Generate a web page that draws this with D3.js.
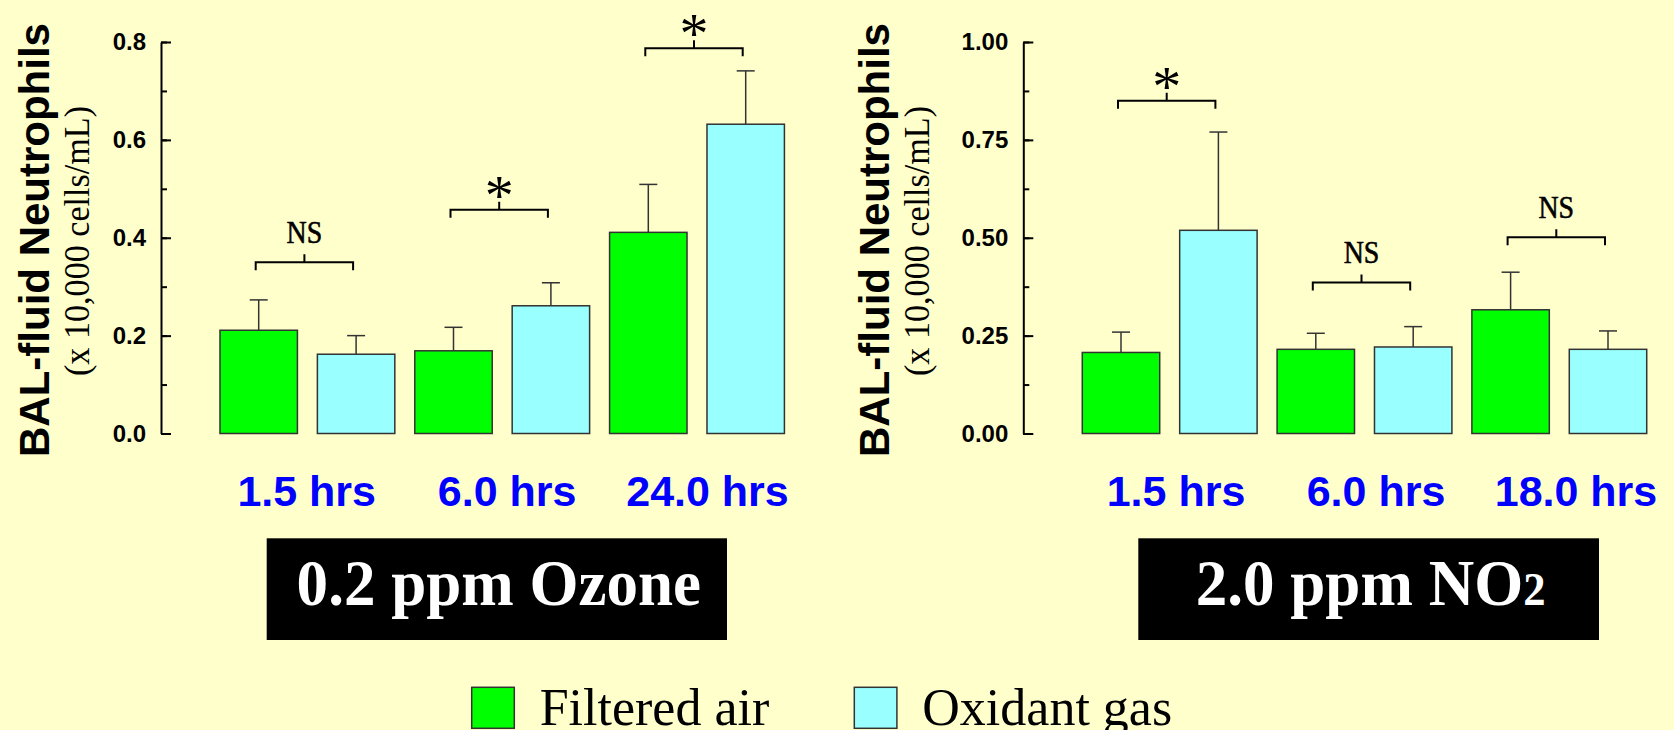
<!DOCTYPE html>
<html>
<head>
<meta charset="utf-8">
<script src="https://cdn.jsdelivr.net/npm/d3@7"></script>
<style>
    html, body { margin: 0; padding: 0; background: #ffffcc; }
    svg { display: block; }
</style>
</head>
<body>
<svg id="chart" width="1674" height="730"></svg>
<script>
// series shared by both panels
const series = ["Filtered air", "Oxidant gas"];
const seriesColors = ["#00ff00", "#99ffff"];

// 0.2 ppm ozone
const ozoneTimes = ["1.5 hrs", "6.0 hrs", "24.0 hrs"];
const ozoneFiltered = [0.211, 0.169, 0.411];
const ozoneFilteredErr = [0.062, 0.048, 0.098];
const ozoneOxidant = [0.162, 0.261, 0.632];
const ozoneOxidantErr = [0.038, 0.047, 0.109];
const ozoneSig = ["NS", "*", "*"];
const ozoneSigLevel = [0.35, 0.457, 0.787];
const ozoneTicks = [0, 0.2, 0.4, 0.6, 0.8];

// 2.0 ppm NO2
const no2Times = ["1.5 hrs", "6.0 hrs", "18.0 hrs"];
const no2Filtered = [0.207, 0.215, 0.316];
const no2FilteredErr = [0.052, 0.041, 0.096];
const no2Oxidant = [0.519, 0.221, 0.215];
const no2OxidantErr = [0.251, 0.052, 0.047];
const no2Sig = ["*", "NS", "NS"];
const no2SigLevel = [0.85, 0.386, 0.501];
const no2Ticks = [0, 0.25, 0.5, 0.75, 1.0];

const svg = d3.select("#chart");
const SANS = "'Liberation Sans', Arial, sans-serif";
const SERIF = "'Liberation Serif', 'Times New Roman', serif";

svg.append("rect").attr("width", 1674).attr("height", 730).attr("fill", "#ffffcc");

function drawPanel(p) {
    const y = d3.scaleLinear().domain([0, p.ticks[p.ticks.length - 1]]).range([433.5, 42]);
    const x0 = d3.scaleBand().domain(p.times).range([p.axisX + 49, p.axisX + 49 + 584.4]);
    const x1 = d3.scaleBand().domain(series).range([0, x0.bandwidth()])
        .paddingInner(0.205).paddingOuter(0.1025);
    const g = svg.append("g");

    // minor ticks
    g.append("g")
        .attr("transform", `translate(${p.axisX},0)`)
        .call(d3.axisLeft(y).tickValues(d3.range(0, y.domain()[1] + 1e-9, p.minor)).tickSize(-6).tickFormat(""))
        .call(a => a.select(".domain").remove())
        .call(a => a.selectAll("line").attr("stroke", "#000").attr("stroke-width", 2));

    // main axis
    g.append("g")
        .attr("transform", `translate(${p.axisX},0)`)
        .call(d3.axisLeft(y).tickValues(p.ticks).tickSizeInner(-10).tickSizeOuter(0)
            .tickPadding(15).tickFormat(d3.format(p.fmt)))
        .call(a => a.select(".domain").attr("stroke", "#000").attr("stroke-width", 2))
        .call(a => a.selectAll("line").attr("stroke", "#000").attr("stroke-width", 2))
        .call(a => a.selectAll("text").attr("fill", "#000")
            .style("font", `bold 24px ${SANS}`));

    // bars
    const rows = [];
    p.times.forEach((t, i) => {
        rows.push({t, s: series[0], c: seriesColors[0], v: p.filtered[i], e: p.filteredErr[i]});
        rows.push({t, s: series[1], c: seriesColors[1], v: p.oxidant[i], e: p.oxidantErr[i]});
    });
    const cx = d => x0(d.t) + x1(d.s) + x1.bandwidth() / 2;

    g.selectAll(".err").data(rows).join("line")
        .attr("x1", cx).attr("x2", cx)
        .attr("y1", d => y(d.v)).attr("y2", d => y(d.v + d.e))
        .attr("stroke", "#333").attr("stroke-width", 1.5);
    g.selectAll(".cap").data(rows).join("line")
        .attr("x1", d => cx(d) - 9).attr("x2", d => cx(d) + 9)
        .attr("y1", d => y(d.v + d.e)).attr("y2", d => y(d.v + d.e))
        .attr("stroke", "#333").attr("stroke-width", 1.5);
    g.selectAll(".bar").data(rows).join("rect")
        .attr("x", d => x0(d.t) + x1(d.s))
        .attr("y", d => y(d.v))
        .attr("width", x1.bandwidth())
        .attr("height", d => y(0) - y(d.v))
        .attr("fill", d => d.c)
        .attr("stroke", "#333").attr("stroke-width", 1.5);

    // significance brackets
    p.times.forEach((t, i) => {
        const xa = x0(t) + x1(series[0]) + x1.bandwidth() / 2 - 3;
        const xb = x0(t) + x1(series[1]) + x1.bandwidth() / 2 - 3;
        const yy = y(p.sigLevel[i]);
        const xm = (xa + xb) / 2;
        g.append("path")
            .attr("d", `M${xa},${yy + 8}V${yy}H${xb}V${yy + 8}M${xm},${yy}V${yy - 8}`)
            .attr("fill", "none").attr("stroke", "#000").attr("stroke-width", 2);
        if (p.sig[i] === "NS") {
            g.append("text")
                .attr("transform", `translate(${xm},${yy - 19}) scale(0.9,1)`)
                .attr("text-anchor", "middle")
                .style("font", `31px ${SERIF}`)
                .attr("stroke", "#000").attr("stroke-width", 0.6)
                .text("NS");
        } else {
            g.append("text")
                .attr("transform", `translate(${xm},${yy + 5})`)
                .attr("text-anchor", "middle")
                .style("font", `58px ${SERIF}`)
                .text("*");
        }
    });

    // category labels
    const xl = d3.scalePoint().domain(p.times).range(p.labelRange);
    g.selectAll(".cat").data(p.times).join("text")
        .attr("x", d => xl(d)).attr("y", 506)
        .attr("text-anchor", "middle")
        .attr("fill", "#0000ff")
        .style("font", `bold 43px ${SANS}`)
        .text(d => d);

    // y titles
    g.append("text")
        .attr("transform", `translate(${p.titleX},240) rotate(-90)`)
        .attr("text-anchor", "middle")
        .style("font", `bold 42px ${SANS}`)
        .text("BAL-fluid Neutrophils");
    g.append("text")
        .attr("transform", `translate(${p.titleX + 40},241) rotate(-90)`)
        .attr("text-anchor", "middle")
        .attr("textLength", 270).attr("lengthAdjust", "spacingAndGlyphs")
        .style("font", `36px ${SERIF}`)
        .text("(x 10,000 cells/mL)");

    // exposure box
    g.append("rect")
        .attr("x", p.box[0]).attr("y", 538.3)
        .attr("width", p.box[1] - p.box[0]).attr("height", 101.7)
        .attr("fill", "#000");
    const bt = g.append("text")
        .attr("transform", `translate(${(p.box[0] + p.box[1]) / 2 + 2},605) scale(0.97,1)`)
        .attr("text-anchor", "middle")
        .attr("fill", "#fff")
        .style("font", `bold 65px ${SERIF}`);
    bt.append("tspan").text(p.boxText[0]);
    if (p.boxText[1]) bt.append("tspan").style("font-size", "46px").text(p.boxText[1]);
}

drawPanel({
    axisX: 161, times: ozoneTimes, ticks: ozoneTicks, minor: 0.1, fmt: ".1f",
    filtered: ozoneFiltered, filteredErr: ozoneFilteredErr,
    oxidant: ozoneOxidant, oxidantErr: ozoneOxidantErr,
    sig: ozoneSig, sigLevel: ozoneSigLevel,
    labelRange: [306.7, 707.5], titleX: 49, box: [266.7, 727], boxText: ["0.2 ppm Ozone"]
});
drawPanel({
    axisX: 1023.3, times: no2Times, ticks: no2Ticks, minor: 0.125, fmt: ".2f",
    filtered: no2Filtered, filteredErr: no2FilteredErr,
    oxidant: no2Oxidant, oxidantErr: no2OxidantErr,
    sig: no2Sig, sigLevel: no2SigLevel,
    labelRange: [1176, 1576], titleX: 889, box: [1138.3, 1599], boxText: ["2.0 ppm NO", "2"]
});

// legend
const legend = svg.append("g");
series.forEach((s, i) => {
    const lx = 471.7 + i * 382.6;
    legend.append("rect")
        .attr("x", lx).attr("y", 687.3).attr("width", 42.6).attr("height", 41)
        .attr("fill", seriesColors[i]).attr("stroke", "#333").attr("stroke-width", 1.5);
    legend.append("text")
        .attr("x", lx + 68).attr("y", 724.5)
        .style("font", `52px ${SERIF}`)
        .text(s);
});
</script>
</body>
</html>
